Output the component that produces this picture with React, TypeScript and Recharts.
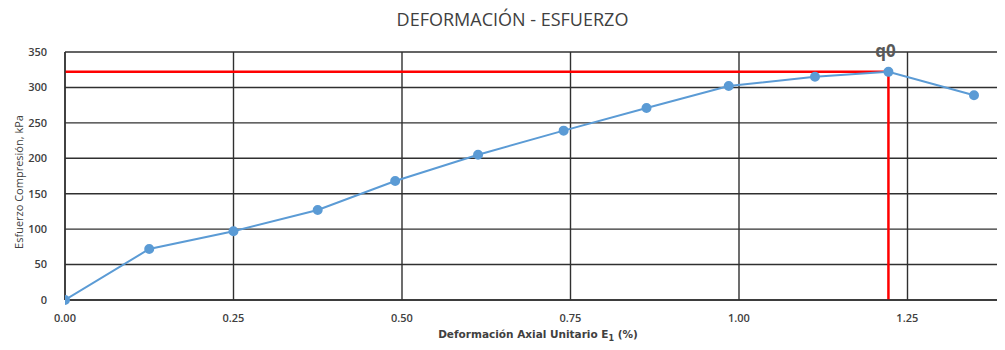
import { CartesianGrid, Line, LineChart, ReferenceLine, XAxis, YAxis } from "recharts";

const STRAIN = [0, 0.125, 0.25, 0.375, 0.49, 0.613, 0.74, 0.863, 0.985, 1.113, 1.222, 1.349];
const STRESS = [0, 72, 97, 127, 168, 205, 239, 271, 302, 315, 322, 289];
const X_TICKS = [0, 0.25, 0.5, 0.75, 1.0, 1.25];
const Y_TICKS = [0, 50, 100, 150, 200, 250, 300, 350];
const Q0_STRAIN = 1.222;
const Q0_STRESS = 322;

const data = STRAIN.map((x, i) => ({ x, y: STRESS[i] }));

const FONT = "'Open Sans', sans-serif";
const TICK_STYLE = { fill: "#404040", fontSize: 11, fontWeight: 600, fontFamily: FONT };

function Q0Label({ viewBox }: any) {
  return (
    <text x={viewBox.x - 3} y={57} textAnchor="middle" fill="#595959" fontSize={17} fontFamily={FONT} fontWeight={700}>
      q0
    </text>
  );
}

export default function App() {
  return (
    <div style={{ margin: -8, width: 1005, height: 350, background: "#fff", position: "relative", overflow: "hidden" }}>
      <div
        style={{
          position: "absolute",
          top: 9,
          left: 0,
          width: 1005,
          textAlign: "center",
          fontFamily: FONT,
          fontSize: 18,
          lineHeight: "20px",
          color: "#404040",
          paddingLeft: 20,
          boxSizing: "border-box",
        }}
      >
        DEFORMACIÓN - ESFUERZO
      </div>
      <div
        style={{
          position: "absolute",
          top: 328,
          left: 338,
          width: 400,
          textAlign: "center",
          fontFamily: "'DejaVu Sans', sans-serif",
          fontWeight: 700,
          fontSize: 10.5,
          lineHeight: "13px",
          color: "#404040",
          zIndex: 2,
        }}
      >
        Deformación Axial Unitario E<sub style={{ fontSize: 8, lineHeight: 0 }}>1</sub> (%)
      </div>
      <LineChart width={1005} height={350} data={data} margin={{ top: 52, right: 0, bottom: 0, left: 0 }}>
        <CartesianGrid stroke="#303030" strokeWidth={1.4} verticalPoints={[65, 233.5, 402, 570.5, 739, 907.5]} />
        <XAxis
          dataKey="x"
          type="number"
          domain={[0, 1.395]}
          ticks={X_TICKS}
          tickFormatter={(v: number) => v.toFixed(2)}
          tick={TICK_STYLE}
          tickLine={false}
          axisLine={{ stroke: "#303030", strokeWidth: 1.4 }}
          tickMargin={8}
          height={50}
          allowDataOverflow
        />
        <YAxis
          type="number"
          domain={[0, 350]}
          ticks={Y_TICKS}
          tick={TICK_STYLE}
          tickLine={false}
          axisLine={{ stroke: "#303030", strokeWidth: 1.4 }}
          tickMargin={12}
          width={65}
          label={{
            value: "Esfuerzo Compresión, kPa",
            angle: -90,
            position: "insideLeft",
            dx: 14,
            dy: 6,
            style: { fill: "#404040", fontSize: 11, fontFamily: FONT, textAnchor: "middle" },
          }}
        />
        <ReferenceLine
          segment={[{ x: 0, y: Q0_STRESS }, { x: Q0_STRAIN, y: Q0_STRESS }]}
          stroke="#ff0000"
          strokeWidth={2.5}
        />
        <ReferenceLine
          segment={[{ x: Q0_STRAIN, y: 0 }, { x: Q0_STRAIN, y: Q0_STRESS }]}
          stroke="#ff0000"
          strokeWidth={2.5}
        />
        <ReferenceLine x={Q0_STRAIN} stroke="none" label={<Q0Label />} />
        <Line
          dataKey="y"
          stroke="#5b9bd5"
          strokeWidth={2}
          dot={{ r: 4, fill: "#5b9bd5", stroke: "#5b9bd5" }}
          isAnimationActive={false}
        />
      </LineChart>
    </div>
  );
}
